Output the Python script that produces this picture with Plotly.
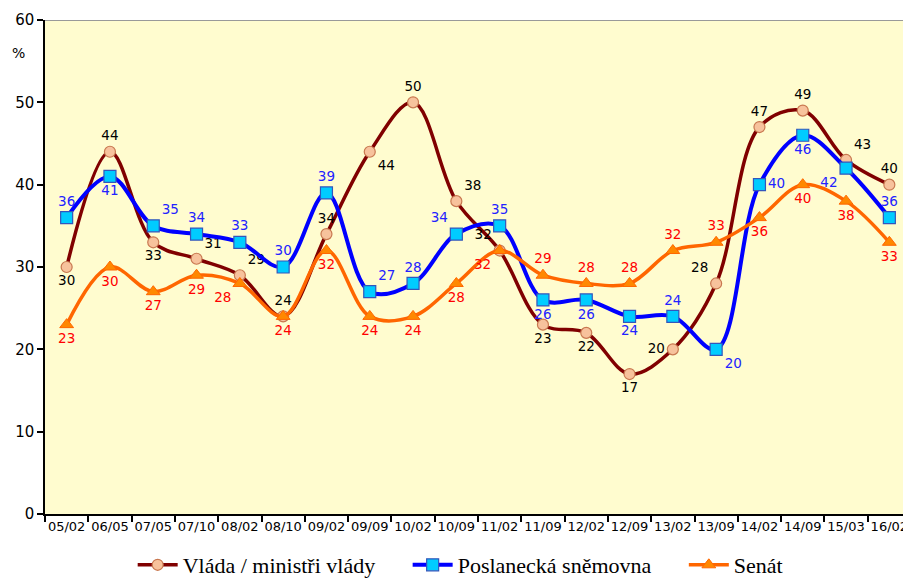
import plotly.graph_objects as go

categories = ["05/02", "06/05", "07/05", "07/10", "08/02", "08/10", "09/02", "09/09", "10/02", "10/09",
              "11/02", "11/09", "12/02", "12/09", "13/02", "13/09", "14/02", "14/09", "15/03", "16/02"]
vlada = [30, 44, 33, 31, 29, 24, 34, 44, 50, 38, 32, 23, 22, 17, 20, 28, 47, 49, 43, 40]
poslanecka = [36, 41, 35, 34, 33, 30, 39, 27, 28, 34, 35, 26, 26, 24, 24, 20, 40, 46, 42, 36]
senat = [23, 30, 27, 29, 28, 24, 32, 24, 24, 28, 32, 29, 28, 28, 32, 33, 36, 40, 38, 33]
y_ticks = [0, 10, 20, 30, 40, 50, 60]

pos_vlada = ["bottom center", "top center", "bottom center", "top right", "top right", "top center",
             "top center", "bottom right", "top center", "top right", "top left", "bottom center",
             "bottom center", "bottom center", "middle left", "top left", "top center", "top center",
             "top right", "top center"]
pos_posl = ["top center", "bottom center", "top right", "top center", "top center", "top center",
            "top center", "top right", "top center", "top left", "top center", "bottom center",
            "bottom center", "bottom center", "top center", "bottom right", "middle right", "bottom center",
            "bottom left", "top center"]
pos_senat = ["bottom center", "bottom center", "bottom center", "bottom center", "bottom left", "bottom center",
             "bottom center", "bottom center", "bottom center", "bottom center", "bottom left", "top center",
             "top center", "top center", "top center", "top center", "bottom center", "bottom center",
             "bottom center", "bottom center"]

label_font = "DejaVu Sans"
pad = "\u00a0" * 5

fig = go.Figure()
fig.add_trace(go.Scatter(
    x=categories, y=vlada, name="Vláda / ministři vlády" + pad,
    mode="lines+markers+text", text=[str(v) for v in vlada], textposition=pos_vlada,
    textfont=dict(family=label_font, size=13.5, color="#000000"),
    line=dict(color="#800000", width=3.5, shape="spline", smoothing=1),
    marker=dict(symbol="circle", size=11, color="#F7C29C", line=dict(color="#C87850", width=1.2)),
))
fig.add_trace(go.Scatter(
    x=categories, y=poslanecka, name="Poslanecká sněmovna" + pad,
    mode="lines+markers+text", text=[str(v) for v in poslanecka], textposition=pos_posl,
    textfont=dict(family=label_font, size=13.5, color="#2222FF"),
    line=dict(color="#0000FF", width=4, shape="spline", smoothing=1),
    marker=dict(symbol="square", size=12, color="#00CCFF", line=dict(color="#3355BB", width=1.2)),
))
fig.add_trace(go.Scatter(
    x=categories, y=senat, name="Senát",
    mode="lines+markers+text", text=[str(v) for v in senat], textposition=pos_senat,
    textfont=dict(family=label_font, size=13.5, color="#FF0000"),
    line=dict(color="#FF6600", width=3.5, shape="spline", smoothing=1),
    marker=dict(symbol="triangle-up", size=12, color="#FF8800", line=dict(color="#FF6600", width=1)),
))

fig.update_layout(
    width=903, height=578,
    margin=dict(l=37, r=0, t=12, b=68),
    paper_bgcolor="white",
    plot_bgcolor="#FFFCCF",
    showlegend=True,
    legend=dict(orientation="h", x=0.48, xanchor="center", y=-0.104, yanchor="middle",
                font=dict(family="Liberation Serif", size=22, color="#000000"),
                itemwidth=40, tracegroupgap=0, bgcolor="rgba(0,0,0,0)"),
    xaxis=dict(type="category", tickson="boundaries", ticks="outside", ticklen=6, tickwidth=1.5,
               tickcolor="black", showline=True, linecolor="black", linewidth=1.5,
               showgrid=False, range=[-0.5, 19.5], tickangle=0, automargin=False,
               tickfont=dict(family=label_font, size=13, color="black")),
    yaxis=dict(range=[0, 60], tickvals=y_ticks, ticks="outside", ticklen=6, tickwidth=1.5,
               tickcolor="black", showline=True, linecolor="black", linewidth=1.5,
               showgrid=False, zeroline=False, automargin=False,
               tickfont=dict(family=label_font, size=15, color="black")),
    shapes=[dict(type="line", xref="paper", yref="y", x0=0, x1=1, y0=60, y1=60,
                 line=dict(color="#999999", width=2))],
    annotations=[dict(text="%", xref="paper", yref="y", x=-0.031, y=56, xanchor="center",
                      yanchor="middle", showarrow=False,
                      font=dict(family=label_font, size=14, color="black"))],
)

fig.write_html("out.html")
